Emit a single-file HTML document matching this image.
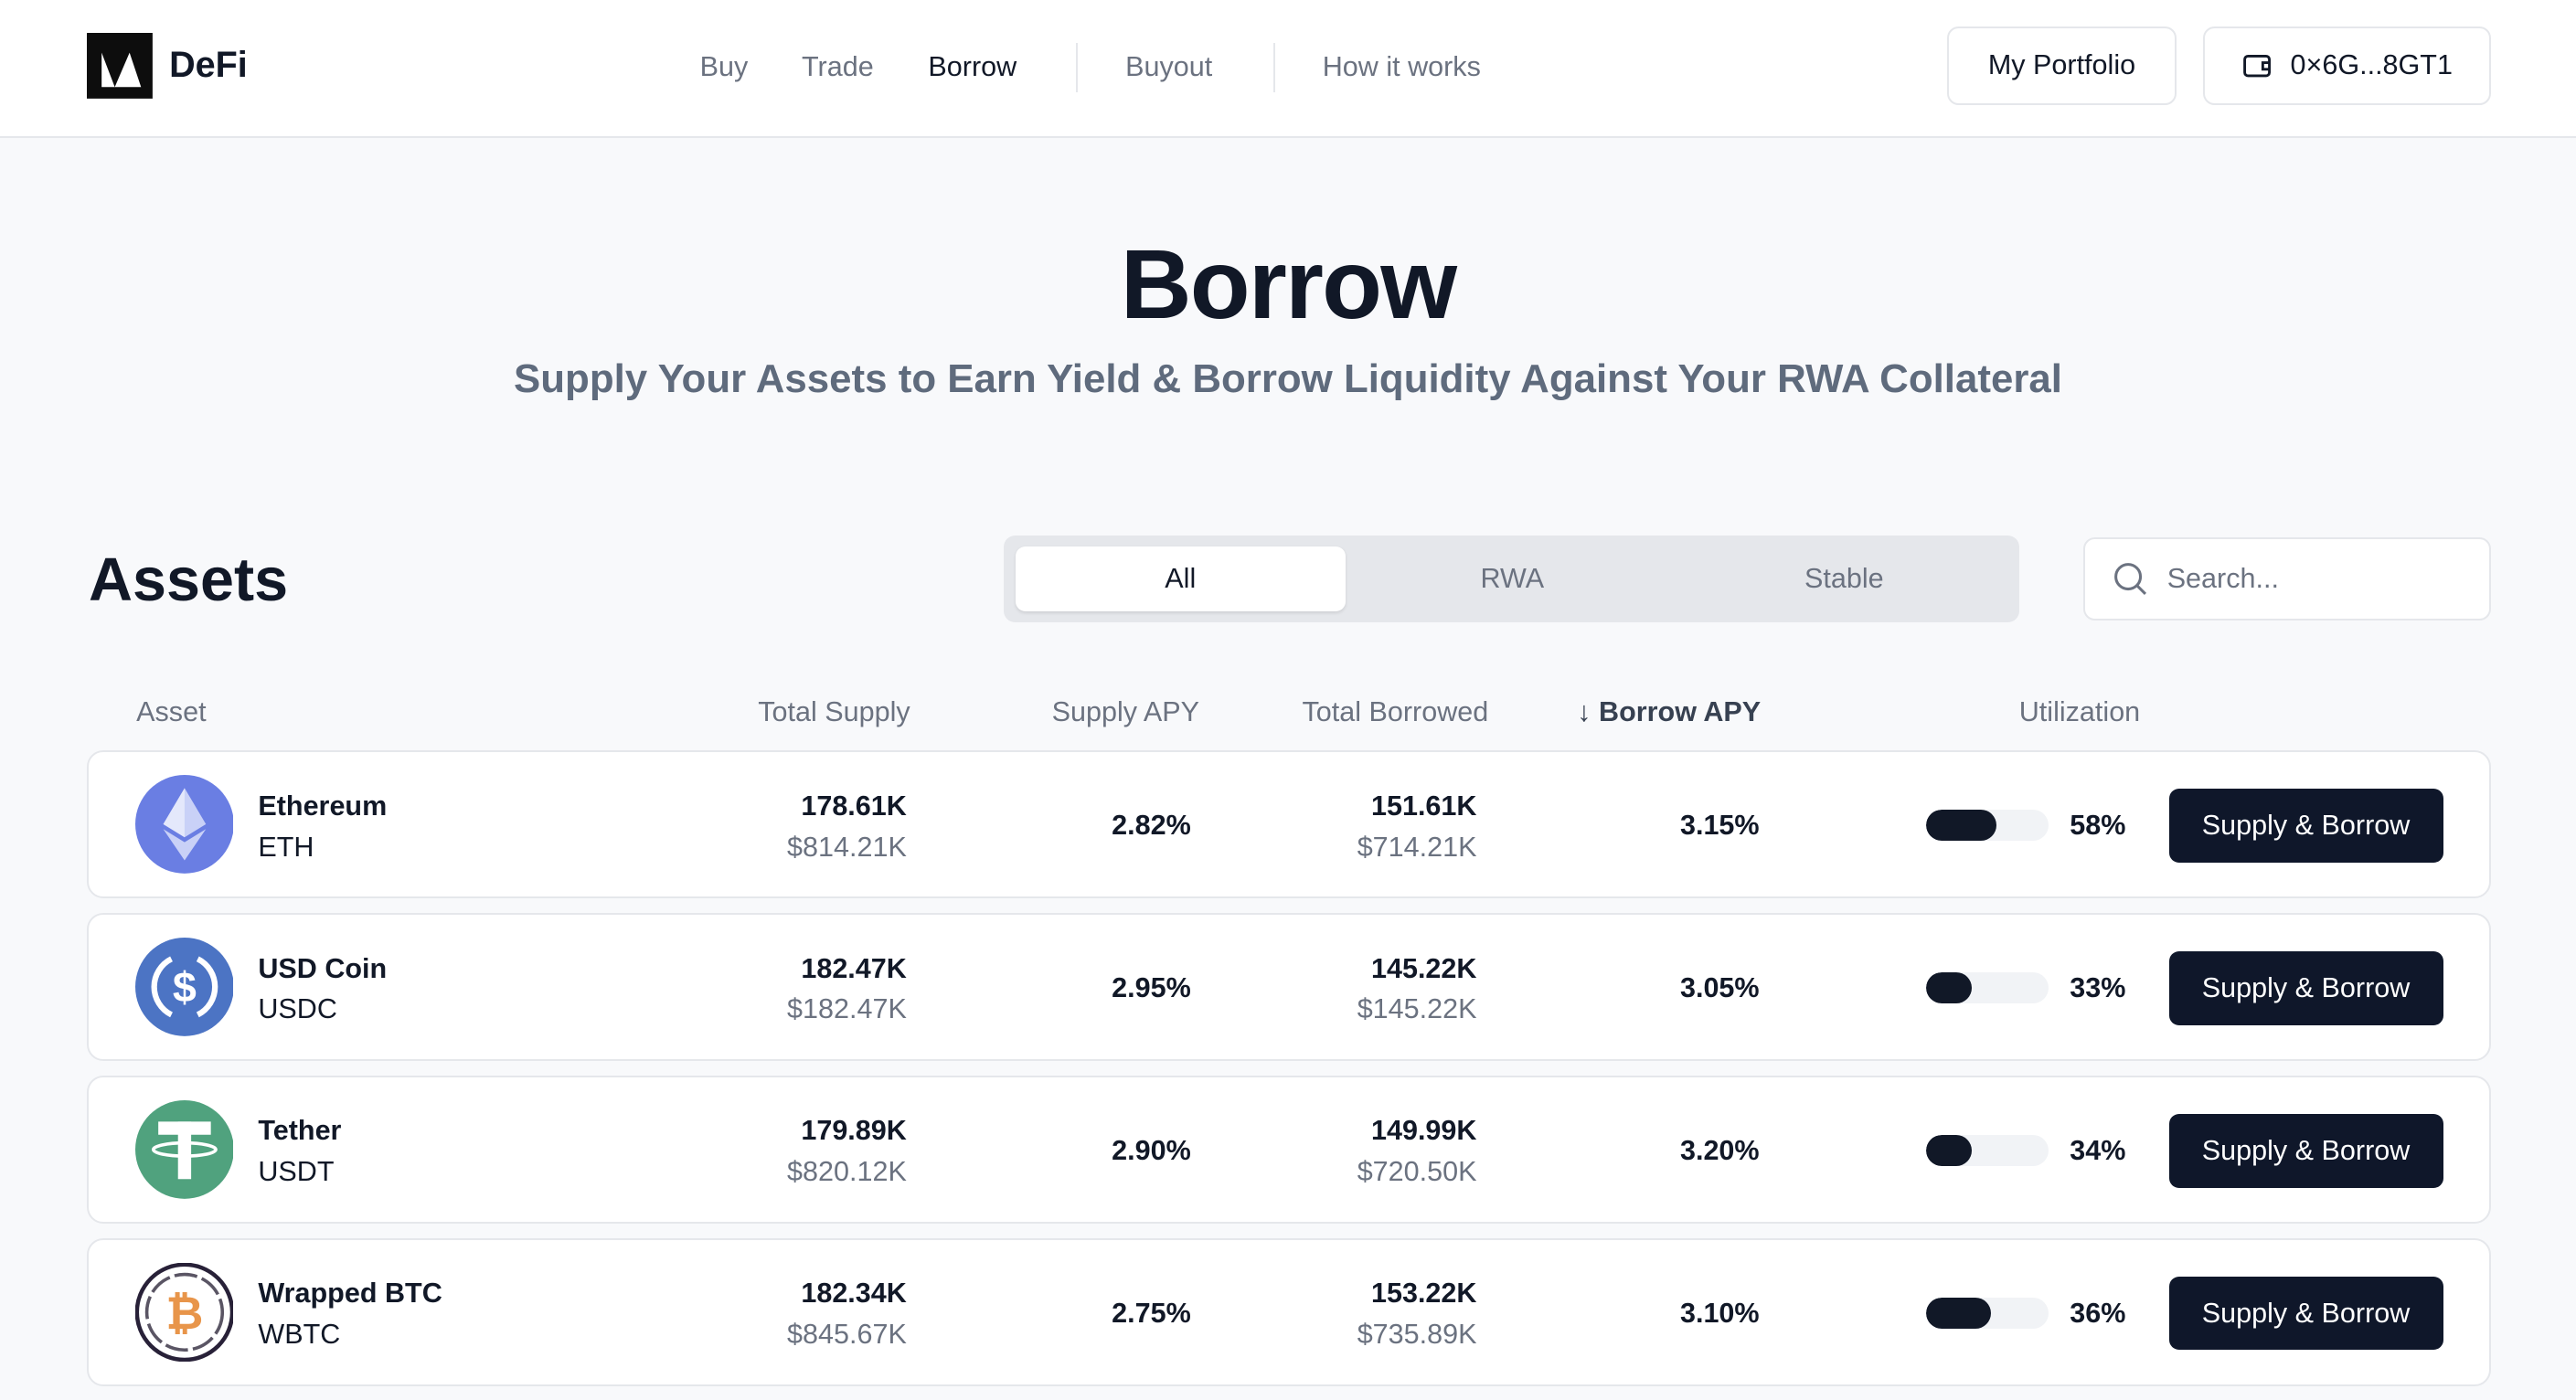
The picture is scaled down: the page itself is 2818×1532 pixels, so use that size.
<!DOCTYPE html>
<html><head><meta charset="utf-8"><style>
html,body{margin:0;padding:0}
body{width:2818px;height:1532px;overflow:hidden;background:#f8f9fb;font-family:"Liberation Sans",sans-serif}
#w{zoom:1.7972;width:1568px;height:852px;position:relative;color:#111827}
.a{position:absolute;white-space:nowrap}
.nav{font-size:17px;color:#6b7280;top:31px}
.btn{position:absolute;border:1.5px solid #e5e7eb;border-radius:7px;background:#fff;font-size:17px;color:#111827;display:flex;align-items:center;justify-content:center;box-sizing:border-box}
.card{position:absolute;left:53px;width:1463px;height:90px;background:#fff;border:1.5px solid #e5e7eb;border-radius:10px;box-sizing:border-box}
.hd{font-size:17px;color:#6b7280;top:424px}
.b{font-weight:bold;font-size:17px}
.g{font-size:17px;color:#6b7280}
.r{text-align:right}
.bar{position:absolute;left:1118px;top:35px;width:75px;height:19px;border-radius:10px;background:#f1f3f6;overflow:hidden}
.bar i{display:block;height:100%;background:#111827;border-radius:10px}
.sb{position:absolute;left:1266px;top:22px;width:167px;height:45px;background:#0f172a;color:#fff;border-radius:6px;font-size:17px;display:flex;align-items:center;justify-content:center}
</style></head><body><div id="w">
<div class="a" style="left:0;top:0;width:1568px;height:83px;background:#fff;border-bottom:1.5px solid #e5e7eb"></div>
<svg class="a" style="left:53px;top:20px" width="40" height="40"><rect width="40" height="40" fill="#0d0d0d"/><path d="M9 12 L17 33 L26 12 L33 33 L9 33Z" fill="#fff"/></svg>
<div class="a" style="left:103px;top:27px;font-size:22px;font-weight:bold">DeFi</div>
<div class="a nav" style="left:426px">Buy</div>
<div class="a nav" style="left:488px">Trade</div>
<div class="a nav" style="left:565px;color:#111827">Borrow</div>
<div class="a" style="left:655px;top:26px;width:1px;height:30px;background:#e5e7eb"></div>
<div class="a nav" style="left:685px">Buyout</div>
<div class="a" style="left:775px;top:26px;width:1px;height:30px;background:#e5e7eb"></div>
<div class="a nav" style="left:805px">How it works</div>
<div class="btn" style="left:1185px;top:16px;width:140px;height:48px">My Portfolio</div>
<div class="btn" style="left:1341px;top:16px;width:175px;height:48px"><svg width="20" height="18" style="margin-right:10px"><rect x="2" y="3" width="15" height="12" rx="2" fill="none" stroke="#111827" stroke-width="1.6"/><path d="M17 7h-4v4h4" fill="none" stroke="#111827" stroke-width="1.6"/></svg>0×6G...8GT1</div>
<div class="a" style="left:0;width:1568px;text-align:center;top:138px;font-size:60px;font-weight:bold;letter-spacing:-1px">Borrow</div>
<div class="a" style="left:0;width:1568px;text-align:center;top:217px;font-size:24.4px;font-weight:bold;color:#5f6b7d">Supply Your Assets to Earn Yield &amp; Borrow Liquidity Against Your RWA Collateral</div>
<div class="a" style="left:54px;top:332px;font-size:37px;font-weight:bold">Assets</div>
<div class="a" style="left:611px;top:326px;width:618px;height:53px;background:#e5e7eb;border-radius:7px"></div>
<div class="a" style="left:618px;top:333px;width:201px;height:39px;background:#fff;border-radius:6px;box-shadow:0 1px 2px rgba(0,0,0,.1)"></div>
<div class="a" style="left:618px;width:201px;text-align:center;top:343px;font-size:17px">All</div>
<div class="a" style="left:820px;width:201px;text-align:center;top:343px;font-size:17px;color:#6b7280">RWA</div>
<div class="a" style="left:1022px;width:201px;text-align:center;top:343px;font-size:17px;color:#6b7280">Stable</div>
<div class="btn" style="left:1268px;top:327px;width:248px;height:51px;justify-content:flex-start;padding-left:17px;color:#6b7280"><svg width="22" height="22" style="margin-right:11px"><circle cx="9.5" cy="9.5" r="7.5" fill="none" stroke="#6b7280" stroke-width="1.7"/><path d="M15 15l5 5" stroke="#6b7280" stroke-width="1.7"/></svg>Search...</div>
<div class="a hd" style="left:83px">Asset</div>
<div class="a hd r" style="right:1014px">Total Supply</div>
<div class="a hd r" style="right:838px">Supply APY</div>
<div class="a hd r" style="right:662px">Total Borrowed</div>
<div class="a hd" style="left:960px;color:#374151;font-weight:bold">↓ Borrow APY</div>
<div class="a hd" style="left:1229px">Utilization</div>

<div class="card" style="top:457px">
<svg class="a" style="left:28px;top:14px" width="60" height="60"><circle cx="30" cy="30" r="30" fill="#6a7ee3"/><path d="M30 8L17 30l13 8 13-8z" fill="#c9d1f7"/><path d="M30 8v30l-13-8z" fill="#fff" opacity=".5"/><path d="M17 33l13 19 13-19-13 8z" fill="#c9d1f7"/></svg>
<div class="a b" style="left:103px;top:23px">Ethereum</div><div class="a" style="left:103px;top:48px;font-size:17px">ETH</div>
<div class="a b r" style="right:963px;top:23px">178.61K</div><div class="a g r" style="right:963px;top:48px">$814.21K</div>
<div class="a b r" style="right:790px;top:35px">2.82%</div>
<div class="a b r" style="right:616px;top:23px">151.61K</div><div class="a g r" style="right:616px;top:48px">$714.21K</div>
<div class="a b r" style="right:444px;top:35px">3.15%</div>
<div class="bar"><i style="width:43px"></i></div>
<div class="a b r" style="right:221px;top:35px">58%</div>
<div class="sb">Supply &amp; Borrow</div></div>

<div class="card" style="top:556px">
<svg class="a" style="left:28px;top:14px" width="60" height="60"><circle cx="30" cy="30" r="30" fill="#4c74c4"/><path d="M22 13a19 19 0 0 0 0 34M38 13a19 19 0 0 1 0 34" fill="none" stroke="#fff" stroke-width="3.5"/><text x="30" y="39" text-anchor="middle" font-size="26" font-weight="bold" fill="#fff" font-family="Liberation Sans">$</text></svg>
<div class="a b" style="left:103px;top:23px">USD Coin</div><div class="a" style="left:103px;top:48px;font-size:17px">USDC</div>
<div class="a b r" style="right:963px;top:23px">182.47K</div><div class="a g r" style="right:963px;top:48px">$182.47K</div>
<div class="a b r" style="right:790px;top:35px">2.95%</div>
<div class="a b r" style="right:616px;top:23px">145.22K</div><div class="a g r" style="right:616px;top:48px">$145.22K</div>
<div class="a b r" style="right:444px;top:35px">3.05%</div>
<div class="bar"><i style="width:28px"></i></div>
<div class="a b r" style="right:221px;top:35px">33%</div>
<div class="sb">Supply &amp; Borrow</div></div>

<div class="card" style="top:655px">
<svg class="a" style="left:28px;top:14px" width="60" height="60"><circle cx="30" cy="30" r="30" fill="#50a27e"/><rect x="14" y="13" width="32" height="8" fill="#fff"/><rect x="26" y="13" width="8" height="35" fill="#fff"/><ellipse cx="30" cy="30" rx="19" ry="4" fill="none" stroke="#fff" stroke-width="2"/></svg>
<div class="a b" style="left:103px;top:23px">Tether</div><div class="a" style="left:103px;top:48px;font-size:17px">USDT</div>
<div class="a b r" style="right:963px;top:23px">179.89K</div><div class="a g r" style="right:963px;top:48px">$820.12K</div>
<div class="a b r" style="right:790px;top:35px">2.90%</div>
<div class="a b r" style="right:616px;top:23px">149.99K</div><div class="a g r" style="right:616px;top:48px">$720.50K</div>
<div class="a b r" style="right:444px;top:35px">3.20%</div>
<div class="bar"><i style="width:28px"></i></div>
<div class="a b r" style="right:221px;top:35px">34%</div>
<div class="sb">Supply &amp; Borrow</div></div>

<div class="card" style="top:754px">
<svg class="a" style="left:28px;top:14px" width="60" height="60"><circle cx="30" cy="30" r="29" fill="#fff" stroke="#282138" stroke-width="2.5"/><circle cx="30" cy="30" r="23" fill="none" stroke="#5a5564" stroke-width="2" stroke-dasharray="14 3"/><text x="30" y="40" text-anchor="middle" font-size="28" font-weight="bold" fill="#e8954a" font-family="Liberation Sans">₿</text></svg>
<div class="a b" style="left:103px;top:23px">Wrapped BTC</div><div class="a" style="left:103px;top:48px;font-size:17px">WBTC</div>
<div class="a b r" style="right:963px;top:23px">182.34K</div><div class="a g r" style="right:963px;top:48px">$845.67K</div>
<div class="a b r" style="right:790px;top:35px">2.75%</div>
<div class="a b r" style="right:616px;top:23px">153.22K</div><div class="a g r" style="right:616px;top:48px">$735.89K</div>
<div class="a b r" style="right:444px;top:35px">3.10%</div>
<div class="bar"><i style="width:40px"></i></div>
<div class="a b r" style="right:221px;top:35px">36%</div>
<div class="sb">Supply &amp; Borrow</div></div>
</div></body></html>
